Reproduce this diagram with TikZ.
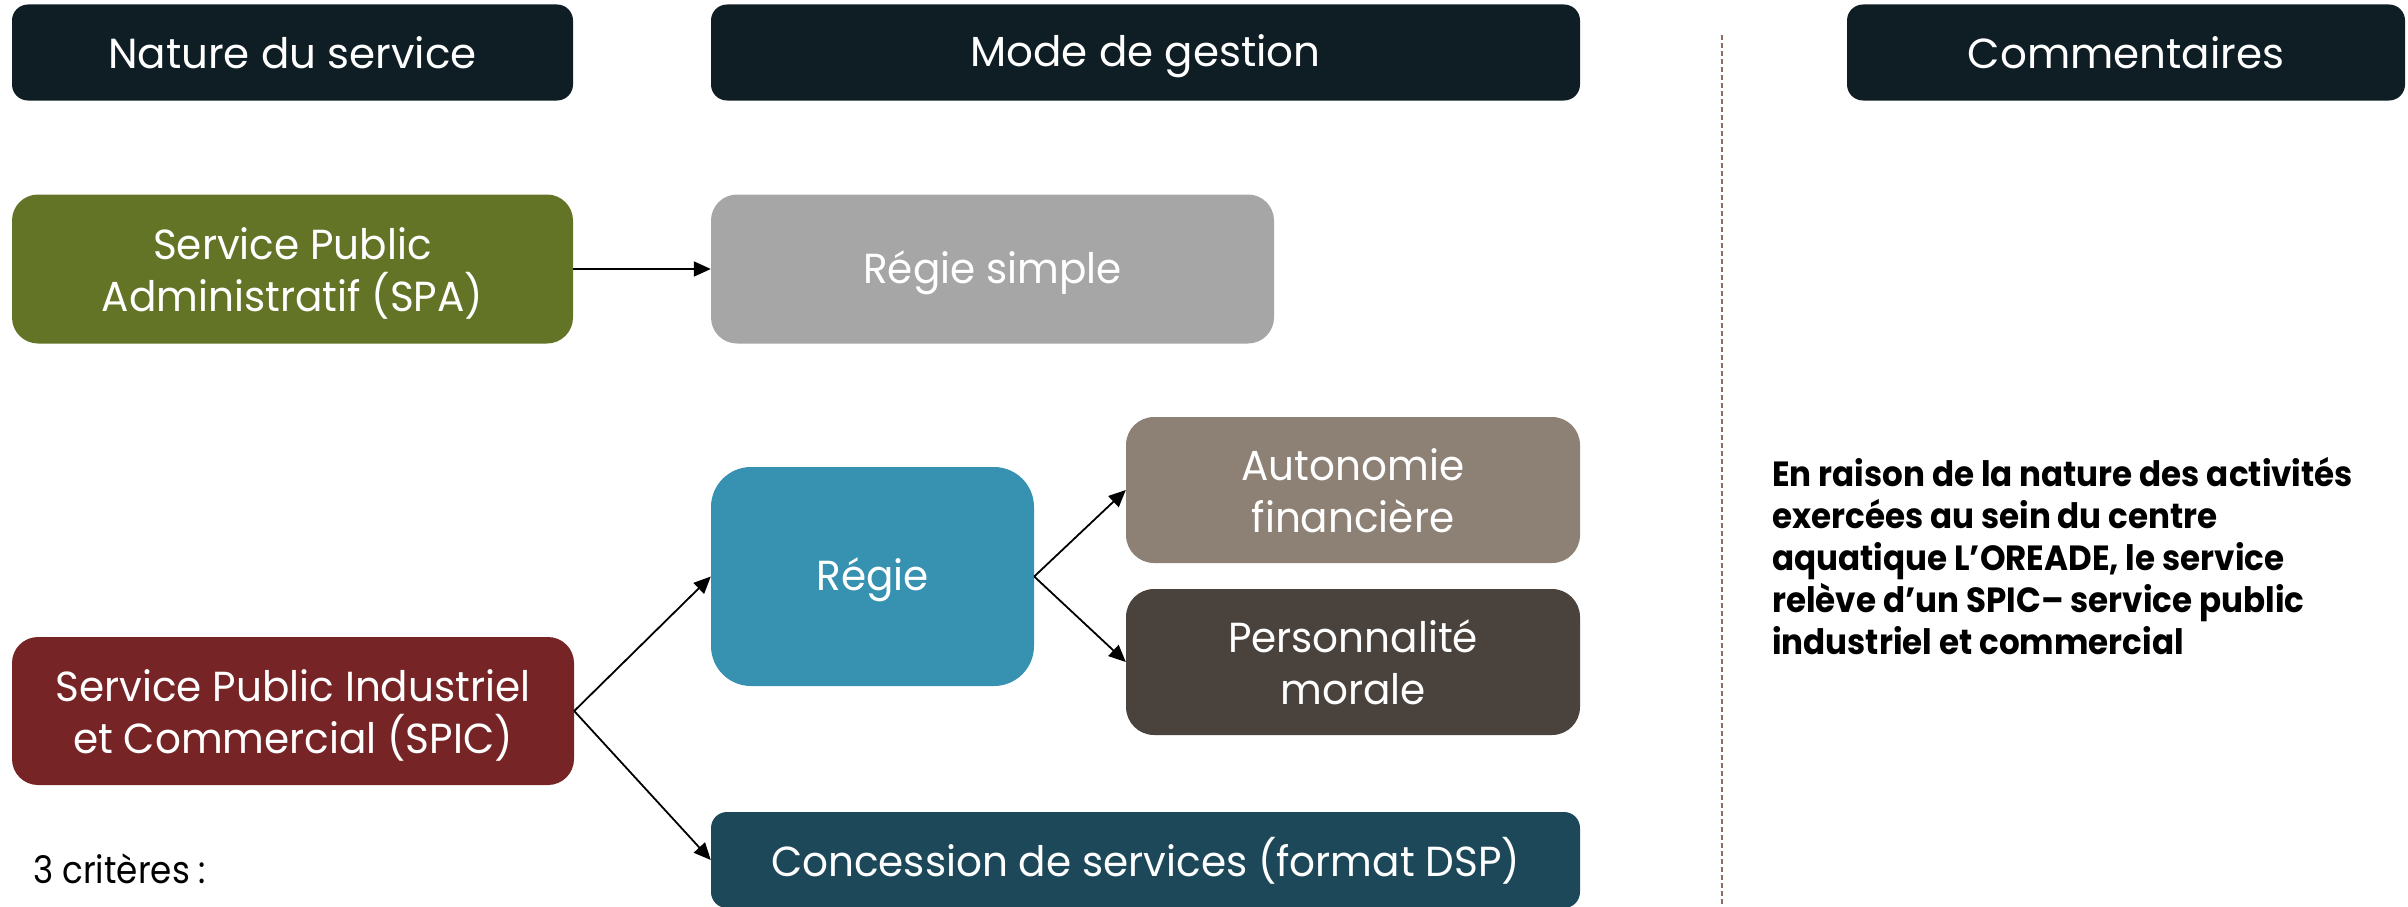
\documentclass[tikz,border=0pt]{standalone}
\usepackage{fontspec}
\setmainfont{Poppins}
\newfontfamily\boxfont[FakeStretch=0.965]{Poppins}
\newfontfamily\critfont[FakeStretch=0.9]{Poppins}
\newfontfamily\comfont[FakeStretch=0.93]{Poppins}
\usetikzlibrary{arrows.meta}
\definecolor{hdr}{HTML}{0F1E24}
\definecolor{spa}{HTML}{637427}
\definecolor{rsimple}{HTML}{A6A6A6}
\definecolor{regie}{HTML}{3791B1}
\definecolor{auto}{HTML}{8D8074}
\definecolor{pers}{HTML}{4A423C}
\definecolor{spic}{HTML}{762426}
\definecolor{conc}{HTML}{1C4859}
\definecolor{dashc}{HTML}{8C6E5F}
\newcommand\mystrut{\rule[-7pt]{0pt}{47pt}}
\begin{document}
\begin{tikzpicture}[x=1pt,y=-1pt,
  box/.style={inner sep=0pt, align=center, text=white, font=\boxfont\fontsize{42}{52}\selectfont},
  hdrbox/.style={box, font=\fontsize{42}{52}\selectfont, fill=hdr, rounded corners=16pt, minimum height=96pt},
  cbox/.style={box, rounded corners=26pt},
  arr/.style={-{Triangle[length=17pt,width=15pt]}, line width=1.8pt, black}]
\useasboundingbox (0,0) rectangle (2408,907);
\clip (0,0) rectangle (2408,907);
% headers
\node[hdrbox, minimum width=561pt] (h1) at (292.5,52.5) {\mystrut Nature du service};
\node[hdrbox, minimum width=869pt] (h2) at (1145.5,52.5) {\mystrut Mode de gestion};
\node[hdrbox, minimum width=558pt] (h3) at (2126,52.5) {\mystrut Commentaires};
% separator
\coordinate (d1) at (1722,35);
\coordinate (d2) at (1722,907);
\draw[dashc, line width=1.5pt, dash pattern=on 5pt off 3pt] (d1) -- (d2);
% boxes
\node[cbox, fill=spa, minimum width=561pt, minimum height=149pt] (spa) at (292.5,269) {\mystrut Service Public\\\mystrut Administratif (SPA)};
\node[cbox, fill=rsimple, minimum width=563pt, minimum height=149pt] (rs) at (992.5,269) {\mystrut Régie simple};
\node[cbox, fill=regie, rounded corners=40pt, minimum width=323pt, minimum height=219pt] (reg) at (872.5,576.5) {\mystrut Régie};
\node[cbox, fill=auto, rounded corners=28pt, minimum width=454pt, minimum height=146pt] (aut) at (1353,490) {\mystrut Autonomie\\\mystrut financière};
\node[cbox, fill=pers, rounded corners=28pt, minimum width=454pt, minimum height=146pt] (per) at (1353,662) {\mystrut Personnalité\\\mystrut morale};
\node[cbox, fill=spic, minimum width=562pt, minimum height=148pt] (spic) at (293,711) {\mystrut Service Public Industriel\\\mystrut et Commercial (SPIC)};
\node[cbox, fill=conc, rounded corners=16pt, minimum width=869pt, minimum height=96pt] (con) at (1145.5,860) {\mystrut Concession de services (format DSP)};
% arrows
\draw[arr] (spa.east) -- (rs.west);
\draw[arr] (spic.east) -- (reg.west);
\draw[arr] (spic.east) -- (con.west);
\draw[arr] (reg.east) -- (aut.west);
\draw[arr] (reg.east) -- (per.west);
% texts
\node[anchor=base west, inner sep=0pt, font=\critfont\fontsize{38}{46}\selectfont] (crit) at (33,883) {3 critères :};
\node[anchor=base west, inner sep=0pt, align=left, font=\comfont\fontsize{35}{42}\selectfont\bfseries] (com) at (1772,654) {En raison de la nature des activités\\exercées au sein du centre\\aquatique L’OREADE, le service\\relève d’un SPIC– service public\\industriel et commercial};
\end{tikzpicture}
\end{document}
